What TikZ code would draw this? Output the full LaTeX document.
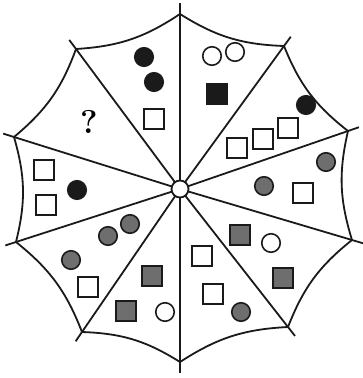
\documentclass[tikz,border=0pt]{standalone}
\usepackage{tikz}
\usetikzlibrary{calc}
\definecolor{ink}{HTML}{1A1A1A}
\definecolor{midgray}{HTML}{6E6E6E}
\tikzset{
  spoke/.style ={line width=1.8pt,draw=ink,line cap=butt},
  rim/.style   ={line width=1.8pt,draw=ink,line cap=round},
  hubring/.style={circle,draw=ink,line width=1.8pt,fill=white,minimum size=17pt,inner sep=0pt},
  sqbox/.style ={rectangle,draw=ink,line width=1.6pt,minimum size=19.5pt,inner sep=0pt},
  dot/.style   ={circle,draw=ink,line width=1.6pt,minimum size=18.5pt,inner sep=0pt},
  wsq/.style   ={sqbox,fill=white},
  gsq/.style   ={sqbox,fill=midgray},
  bsq/.style   ={sqbox,fill=ink},
  wdot/.style  ={dot,fill=white},
  gdot/.style  ={dot,fill=midgray},
  bdot/.style  ={dot,fill=ink}
}
\begin{document}
\begin{tikzpicture}[x=1pt,y=-1pt]
  \useasboundingbox (0,0) rectangle (362,378);
  % rim corners, clockwise from the top
  \coordinate (v0) at (180,14);
  \coordinate (v1) at (284,46);
  \coordinate (v2) at (348,131);
  \coordinate (v3) at (352,240);
  \coordinate (v4) at (288,327);
  \coordinate (v5) at (180,362);
  \coordinate (v6) at (82,332);
  \coordinate (v7) at (16,242);
  \coordinate (v8) at (14,137);
  \coordinate (v9) at (76,49);
  \coordinate (c) at (180,189);
  % spokes and rim
  \foreach \i in {0,...,9}
    \draw[spoke] (c) -- ($(c)!1.065!(v\i)$);
  \foreach \i [evaluate=\i as \j using {int(mod(\i+1,10))}] in {0,...,9}
    \draw[rim] (v\i) to[bend right=15] (v\j);
  \node[hubring] (hub) at (c) {};

  % top left
  \node[bdot] (tl1) at (144,57) {};
  \node[bdot] (tl2) at (154,82) {};
  \node[wsq]  (tl3) at (154,119) {};
  % top right
  \node[wdot] (tr1) at (212,56) {};
  \node[wdot] (tr2) at (235,52) {};
  \node[bsq]  (tr3) at (217,94) {};
  % upper right
  \node[bdot] (ur1) at (306,105) {};
  \node[wsq]  (ur2) at (288,128) {};
  \node[wsq]  (ur3) at (263,139) {};
  \node[wsq]  (ur4) at (237,148) {};
  % right
  \node[gdot] (rr1) at (326,162) {};
  \node[gdot] (rr2) at (264,186) {};
  \node[wsq]  (rr3) at (303,193) {};
  % lower right
  \node[gsq]  (lr1) at (240,235) {};
  \node[wdot] (lr2) at (271,243) {};
  \node[gsq]  (lr3) at (283,278) {};
  % bottom right
  \node[wsq]  (br1) at (202,256) {};
  \node[wsq]  (br2) at (213,294) {};
  \node[gdot] (br3) at (241,312) {};
  % bottom left
  \node[gsq]  (bl1) at (152,276) {};
  \node[gsq]  (bl2) at (126,311) {};
  \node[wdot] (bl3) at (165,312) {};
  % lower left
  \node[gdot] (ll1) at (130,224) {};
  \node[gdot] (ll2) at (108,236) {};
  \node[gdot] (ll3) at (71,260) {};
  \node[wsq]  (ll4) at (88,287) {};
  % left
  \node[wsq]  (lf1) at (44,170) {};
  \node[wsq]  (lf2) at (46,205) {};
  \node[bdot] (lf3) at (77,190) {};
  % upper left
  \node[font=\fontsize{33}{36}\selectfont\bfseries,inner sep=0pt] (qm) at (89,122) {?};
\end{tikzpicture}
\end{document}
